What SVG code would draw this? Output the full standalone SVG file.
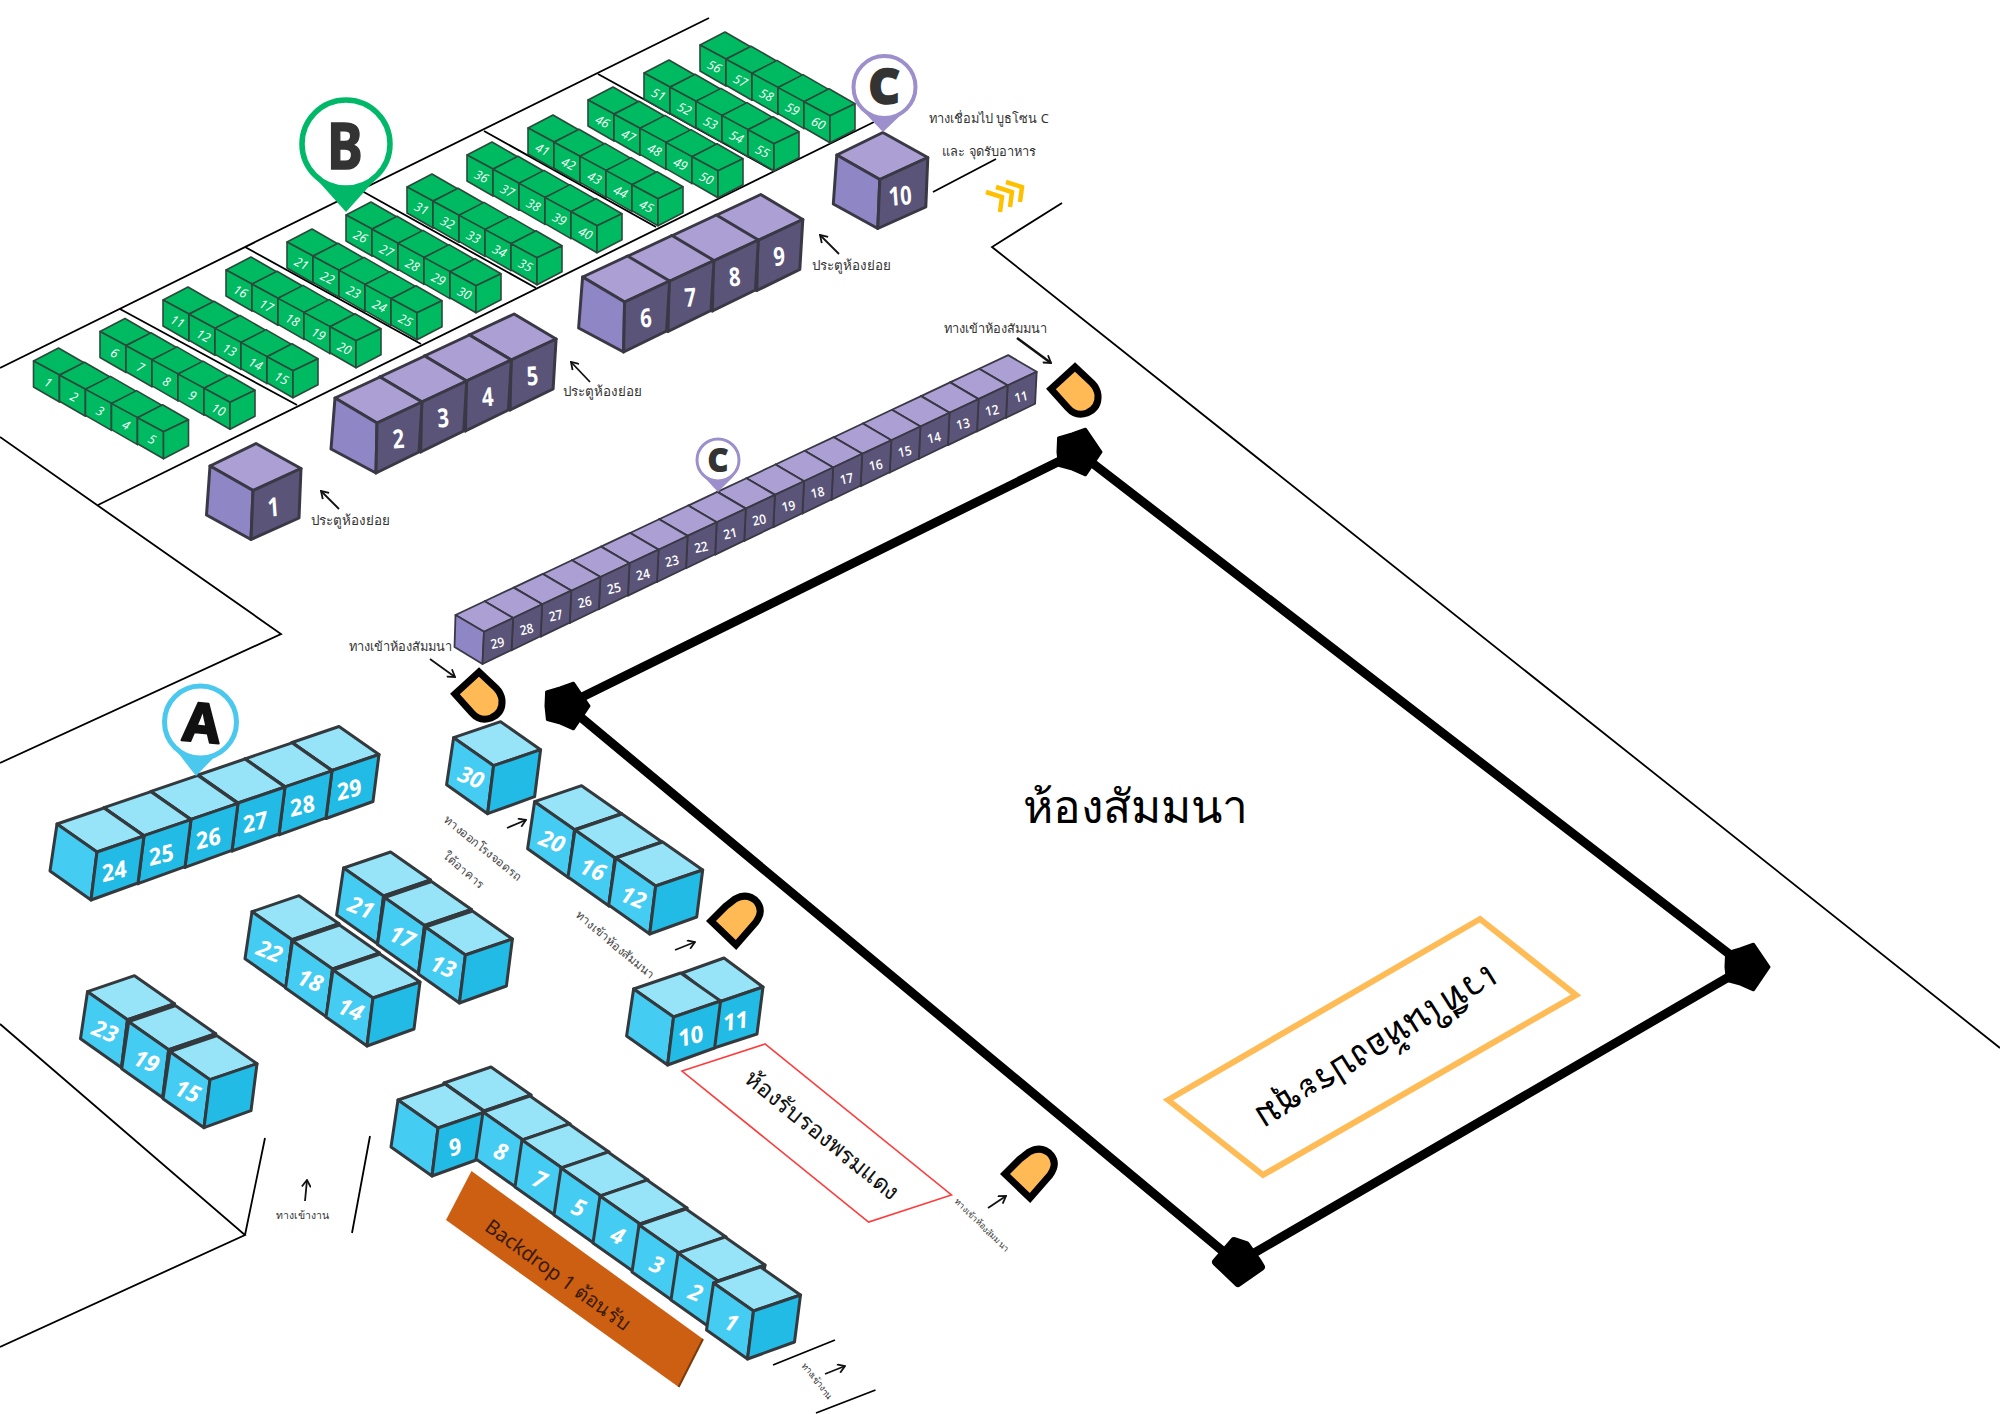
<svg xmlns="http://www.w3.org/2000/svg" width="2000" height="1414" viewBox="0 0 2000 1414">
<style>
text{font-family:"Noto Sans","Liberation Sans","DejaVu Sans",sans-serif;text-anchor:middle}
.th{fill:#333;font-size:13.4px}
.tn{fill:#333;font-size:12.8px}
.tr{fill:#444;font-size:11.8px}
.sm{fill:#333;font-size:10.5px}
.wall{fill:none;stroke:#000;stroke-width:1.8}
.gt{fill:#00BA62;stroke:#2a4a3a;stroke-width:1.6;stroke-linejoin:round}
.gn{fill:#fff;font:italic 12.5px "Open Sans","Liberation Sans",sans-serif;text-anchor:middle;transform:translate(12.5px,25.5px) rotate(26deg)}
.pt{fill:#AB9FD3}.pl{fill:#8F86C5}.pr{fill:#5A5478}
.ps{stroke:#3a3845;stroke-width:3;stroke-linejoin:round}
.pq{stroke:#3a3845;stroke-width:1.8;stroke-linejoin:round}
.pn{fill:#fff;font:bold 26px "Open Sans","Liberation Sans",sans-serif;text-anchor:middle;transform:translate(64px,50px) rotate(-4deg) scale(.78,1)}
.pm{fill:#fff;font:600 13px "Open Sans","Liberation Sans",sans-serif;text-anchor:middle;transform:translate(43px,32.5px) rotate(-12deg) scale(.92,1)}
.bt{fill:#97E4F9}.bl{fill:#45CCF3}.br{fill:#22BBE5}
.bs{stroke:#33393d;stroke-width:3;stroke-linejoin:round}
.bL{fill:#fff;font:italic bold 23px "Open Sans","Liberation Sans",sans-serif;text-anchor:middle;transform:translate(14.5px,47px) rotate(22deg)}
.bR{fill:#fff;font:italic bold 23px "Open Sans","Liberation Sans",sans-serif;text-anchor:middle;transform:translate(59px,55px) rotate(-14deg)}
.bR2{fill:#fff;font:italic bold 23px "Open Sans","Liberation Sans",sans-serif;text-anchor:middle;transform:translate(55px,56px) rotate(-10deg)}
.door{fill:#FFB955;stroke:#000;stroke-width:7;stroke-linejoin:miter}
.arr{fill:none;stroke:#111;stroke-width:1.8;marker-end:url(#ah)}
.chev{fill:none;stroke:#FFC000;stroke-width:4.5}
</style>
<defs>
<marker id="ah" markerUnits="userSpaceOnUse" viewBox="0 0 10 10" refX="9" refY="5" markerWidth="10" markerHeight="10" orient="auto"><path d="M2,0.5 L9,5 L2,9.5" fill="none" stroke="#111" stroke-width="1.8"/></marker>
<g id="gc" class="gt"><path d="M0,0 L26,14 L51,2 L25,-13 Z"/><path d="M0,0 L26,14 L26,41 L0,26 Z"/><path d="M26,14 L51,2 L51,28 L26,41 Z"/></g>
<g id="ps"><path class="pt pq" d="M0,0 L28.5,16.7 L57.6,3 L29.1,-13.7 Z"/><path class="pl pq" d="M0,0 L28.5,16.7 L27,49 L-1,32 Z"/><path class="pr pq" d="M28.5,16.7 L57.6,3 L56,35 L27,49 Z"/></g>
<g id="pb"><path class="pt ps" d="M0,0 L42,25 L87,4 L45,-21 Z"/><path class="pl ps" d="M0,0 L42,25 L41,75 L-4,51 Z"/><path class="pr ps" d="M42,25 L87,4 L84,54 L41,75 Z"/></g>
<g id="pc"><path class="pt ps" d="M0,0 L43,24.5 L91,2.5 L46,-22.5 Z"/><path class="pl ps" d="M0,0 L43,24.5 L41,73.5 L-3.5,49 Z"/><path class="pr ps" d="M43,24.5 L91,2.5 L89,52 L41,73.5 Z"/></g>
<g id="bc"><path class="bt bs" d="M0,0 L40,28 L87,12 L47,-16 Z"/><path class="bl bs" d="M0,0 L40,28 L34,76 L-7,47 Z"/><path class="br bs" d="M40,28 L87,12 L81,59 L34,76 Z"/></g>
<g id="bn"><path class="bt bs" d="M0,0 L37,29 L81,14 L42,-15 Z"/><path class="br bs" d="M37,29 L81,14 L75,61 L32,75 Z"/></g>
<path id="blob" d="M23,0 L15.4,11.2 L7.4,22.8 L-5.6,17.1 L-18.6,13.5 L-20,0 L-19.4,-14.1 L-5.9,-18.1 L7.4,-22.8 L15.4,-11.2 Z" fill="#000" stroke="#000" stroke-width="3" stroke-linejoin="round"/>
<path id="doorA" class="door" d="M1075,367 L1051,389 L1068,408 Q1076,417 1087,413 Q1099,408 1098,395 Q1097,388 1092,383 Z"/>
<path id="doorB" class="door" d="M711,921 L736,945 L756,922 Q764,911 757,902 Q748,892 735,899 Q730,903 726,906 Z"/>
</defs>

<g id="walls" class="wall">
<path d="M0,368 L709,18"/>
<path d="M98,505 L874,122"/>
<path d="M120,309 L297,405 M245,247 L421,344 M362,191 L536,288 M484,131 L656,227 M598,74 L772,170"/>
<path d="M0,437 L281,634 L0,763"/>
<path d="M0,1024 L245,1235 L0,1347 M245,1235 L265,1138 M370,1136 L352,1233"/>
<path d="M933,192 L996,159 M1062,203 L992,247 L2000,1048"/>
<path d="M773,1365 L835,1340 M816,1413 L875.5,1390"/>
</g>

<g id="seminar-room">
<path d="M1078,452 L566,705 L1237,1263 L1746,967 Z" fill="none" stroke="#000" stroke-width="9"/>
<use href="#blob" x="1078" y="452"/><use href="#blob" x="566" y="706"/><use href="#blob" x="1746" y="967"/>
<path d="M1234,1241 L1246,1245 L1258,1262 L1261,1267 L1238,1283 L1216,1262 Z" fill="#000" stroke="#000" stroke-width="8" stroke-linejoin="round"/>
<text x="1135" y="823" font-size="46" fill="#000">ห้องสัมมนา</text>
<path d="M1168,1100 L1480,919 L1576,995 L1263,1175 Z" fill="none" stroke="#FFBB55" stroke-width="6"/>
<text transform="translate(1377,1048) rotate(148)" y="13" font-size="37" fill="#000">เวทีในห้องประชุม</text>
</g>

<g id="red-room">
<path d="M682,1071 L765,1044 L951.5,1195 L868.6,1222 Z" fill="#fff" stroke="#FF3B3B" stroke-width="1.6"/>
<text transform="translate(822,1135) rotate(39)" y="8" font-size="23.5" fill="#111">ห้องรับรองพรมแดง</text>
</g>

<g id="backdrop">
<path d="M471.5,1171 L703,1339 L678.6,1387 L446,1220 Z" fill="#CC5F12"/>
<path d="M703,1339 L678.6,1387" fill="none" stroke="#7a3a0a" stroke-width="2"/>
<text transform="translate(558,1275) rotate(36)" y="7" font-size="20" fill="#3a1a05">Backdrop 1 ต้อนรับ</text>
</g>

<g id="zone-b">
<g id="g1" transform="translate(33.5,361)"><use href="#gc"/><text class="gn">1</text></g>
<g id="g2" transform="translate(59.5,375.2)"><use href="#gc"/><text class="gn">2</text></g>
<g id="g3" transform="translate(85.5,389.4)"><use href="#gc"/><text class="gn">3</text></g>
<g id="g4" transform="translate(111.5,403.6)"><use href="#gc"/><text class="gn">4</text></g>
<g id="g5" transform="translate(137.5,417.8)"><use href="#gc"/><text class="gn">5</text></g>
<g id="g6" transform="translate(100,331.5)"><use href="#gc"/><text class="gn">6</text></g>
<g id="g7" transform="translate(126,345.7)"><use href="#gc"/><text class="gn">7</text></g>
<g id="g8" transform="translate(152,359.9)"><use href="#gc"/><text class="gn">8</text></g>
<g id="g9" transform="translate(178,374.1)"><use href="#gc"/><text class="gn">9</text></g>
<g id="g10" transform="translate(204,388.3)"><use href="#gc"/><text class="gn">10</text></g>
<g id="g11" transform="translate(163,300)"><use href="#gc"/><text class="gn">11</text></g>
<g id="g12" transform="translate(189,314.2)"><use href="#gc"/><text class="gn">12</text></g>
<g id="g13" transform="translate(215,328.4)"><use href="#gc"/><text class="gn">13</text></g>
<g id="g14" transform="translate(241,342.6)"><use href="#gc"/><text class="gn">14</text></g>
<g id="g15" transform="translate(267,356.8)"><use href="#gc"/><text class="gn">15</text></g>
<g id="g16" transform="translate(226,270)"><use href="#gc"/><text class="gn">16</text></g>
<g id="g17" transform="translate(252,284.2)"><use href="#gc"/><text class="gn">17</text></g>
<g id="g18" transform="translate(278,298.4)"><use href="#gc"/><text class="gn">18</text></g>
<g id="g19" transform="translate(304,312.6)"><use href="#gc"/><text class="gn">19</text></g>
<g id="g20" transform="translate(330,326.8)"><use href="#gc"/><text class="gn">20</text></g>
<g id="g21" transform="translate(287,242)"><use href="#gc"/><text class="gn">21</text></g>
<g id="g22" transform="translate(313,256.2)"><use href="#gc"/><text class="gn">22</text></g>
<g id="g23" transform="translate(339,270.4)"><use href="#gc"/><text class="gn">23</text></g>
<g id="g24" transform="translate(365,284.6)"><use href="#gc"/><text class="gn">24</text></g>
<g id="g25" transform="translate(391,298.8)"><use href="#gc"/><text class="gn">25</text></g>
<g id="g26" transform="translate(346,215)"><use href="#gc"/><text class="gn">26</text></g>
<g id="g27" transform="translate(372,229.2)"><use href="#gc"/><text class="gn">27</text></g>
<g id="g28" transform="translate(398,243.4)"><use href="#gc"/><text class="gn">28</text></g>
<g id="g29" transform="translate(424,257.6)"><use href="#gc"/><text class="gn">29</text></g>
<g id="g30" transform="translate(450,271.8)"><use href="#gc"/><text class="gn">30</text></g>
<g id="g31" transform="translate(407,187)"><use href="#gc"/><text class="gn">31</text></g>
<g id="g32" transform="translate(433,201.2)"><use href="#gc"/><text class="gn">32</text></g>
<g id="g33" transform="translate(459,215.4)"><use href="#gc"/><text class="gn">33</text></g>
<g id="g34" transform="translate(485,229.6)"><use href="#gc"/><text class="gn">34</text></g>
<g id="g35" transform="translate(511,243.8)"><use href="#gc"/><text class="gn">35</text></g>
<g id="g36" transform="translate(467,155)"><use href="#gc"/><text class="gn">36</text></g>
<g id="g37" transform="translate(493,169.2)"><use href="#gc"/><text class="gn">37</text></g>
<g id="g38" transform="translate(519,183.4)"><use href="#gc"/><text class="gn">38</text></g>
<g id="g39" transform="translate(545,197.6)"><use href="#gc"/><text class="gn">39</text></g>
<g id="g40" transform="translate(571,211.8)"><use href="#gc"/><text class="gn">40</text></g>
<g id="g41" transform="translate(528,128)"><use href="#gc"/><text class="gn">41</text></g>
<g id="g42" transform="translate(554,142.2)"><use href="#gc"/><text class="gn">42</text></g>
<g id="g43" transform="translate(580,156.4)"><use href="#gc"/><text class="gn">43</text></g>
<g id="g44" transform="translate(606,170.6)"><use href="#gc"/><text class="gn">44</text></g>
<g id="g45" transform="translate(632,184.8)"><use href="#gc"/><text class="gn">45</text></g>
<g id="g46" transform="translate(588,100)"><use href="#gc"/><text class="gn">46</text></g>
<g id="g47" transform="translate(614,114.2)"><use href="#gc"/><text class="gn">47</text></g>
<g id="g48" transform="translate(640,128.4)"><use href="#gc"/><text class="gn">48</text></g>
<g id="g49" transform="translate(666,142.6)"><use href="#gc"/><text class="gn">49</text></g>
<g id="g50" transform="translate(692,156.8)"><use href="#gc"/><text class="gn">50</text></g>
<g id="g51" transform="translate(644,73)"><use href="#gc"/><text class="gn">51</text></g>
<g id="g52" transform="translate(670,87.2)"><use href="#gc"/><text class="gn">52</text></g>
<g id="g53" transform="translate(696,101.4)"><use href="#gc"/><text class="gn">53</text></g>
<g id="g54" transform="translate(722,115.6)"><use href="#gc"/><text class="gn">54</text></g>
<g id="g55" transform="translate(748,129.8)"><use href="#gc"/><text class="gn">55</text></g>
<g id="g56" transform="translate(700,45)"><use href="#gc"/><text class="gn">56</text></g>
<g id="g57" transform="translate(726,59.2)"><use href="#gc"/><text class="gn">57</text></g>
<g id="g58" transform="translate(752,73.4)"><use href="#gc"/><text class="gn">58</text></g>
<g id="g59" transform="translate(778,87.6)"><use href="#gc"/><text class="gn">59</text></g>
<g id="g60" transform="translate(804,101.8)"><use href="#gc"/><text class="gn">60</text></g>
</g>

<g id="zone-c-rooms">
<g id="r1" transform="translate(210,466)"><use href="#pc"/><text class="pn">1</text></g>
<g id="r5" transform="translate(469.1,335)"><use href="#pb"/><text class="pn">5</text></g>
<g id="r4" transform="translate(424.4,356)"><use href="#pb"/><text class="pn">4</text></g>
<g id="r3" transform="translate(379.7,377)"><use href="#pb"/><text class="pn">3</text></g>
<g id="r2" transform="translate(335,398)"><use href="#pb"/><text class="pn">2</text></g>
<g id="r9" transform="translate(715.8,215.5)"><use href="#pb"/><text class="pn">9</text></g>
<g id="r8" transform="translate(671.4,236)"><use href="#pb"/><text class="pn">8</text></g>
<g id="r7" transform="translate(627,256.5)"><use href="#pb"/><text class="pn">7</text></g>
<g id="r6" transform="translate(582.6,277)"><use href="#pb"/><text class="pn">6</text></g>
<g id="r10" transform="translate(836.8,155)"><use href="#pc"/><text class="pn">10</text></g>
</g>

<g id="zone-c-row">
<g id="c11" transform="translate(979.1,368.8)"><use href="#ps"/><text class="pm">11</text></g>
<g id="c12" transform="translate(950,382.4)"><use href="#ps"/><text class="pm">12</text></g>
<g id="c13" transform="translate(921,396.1)"><use href="#ps"/><text class="pm">13</text></g>
<g id="c14" transform="translate(891.9,409.8)"><use href="#ps"/><text class="pm">14</text></g>
<g id="c15" transform="translate(862.8,423.5)"><use href="#ps"/><text class="pm">15</text></g>
<g id="c16" transform="translate(833.7,437.2)"><use href="#ps"/><text class="pm">16</text></g>
<g id="c17" transform="translate(804.6,450.8)"><use href="#ps"/><text class="pm">17</text></g>
<g id="c18" transform="translate(775.5,464.5)"><use href="#ps"/><text class="pm">18</text></g>
<g id="c19" transform="translate(746.4,478.2)"><use href="#ps"/><text class="pm">19</text></g>
<g id="c20" transform="translate(717.3,491.9)"><use href="#ps"/><text class="pm">20</text></g>
<g id="c21" transform="translate(688.2,505.6)"><use href="#ps"/><text class="pm">21</text></g>
<g id="c22" transform="translate(659.1,519.2)"><use href="#ps"/><text class="pm">22</text></g>
<g id="c23" transform="translate(630,533)"><use href="#ps"/><text class="pm">23</text></g>
<g id="c24" transform="translate(601,546.6)"><use href="#ps"/><text class="pm">24</text></g>
<g id="c25" transform="translate(571.9,560.3)"><use href="#ps"/><text class="pm">25</text></g>
<g id="c26" transform="translate(542.8,574)"><use href="#ps"/><text class="pm">26</text></g>
<g id="c27" transform="translate(513.7,587.6)"><use href="#ps"/><text class="pm">27</text></g>
<g id="c28" transform="translate(484.6,601.3)"><use href="#ps"/><text class="pm">28</text></g>
<g id="c29" transform="translate(455.5,615)"><use href="#ps"/><text class="pm">29</text></g>
</g>

<g id="zone-a">
<g id="a29" transform="translate(292,742.5)"><use href="#bc"/><text class="bR">29</text></g>
<g id="a28" transform="translate(245,758.8)"><use href="#bc"/><text class="bR">28</text></g>
<g id="a27" transform="translate(198,775)"><use href="#bc"/><text class="bR">27</text></g>
<g id="a26" transform="translate(151,791.4)"><use href="#bc"/><text class="bR">26</text></g>
<g id="a25" transform="translate(104,807.7)"><use href="#bc"/><text class="bR">25</text></g>
<g id="a24" transform="translate(57,824)"><use href="#bc"/><text class="bR">24</text></g>
<g id="a30" transform="translate(453.6,737.7)"><use href="#bc"/><text class="bL">30</text></g>
<g id="a21" transform="translate(343.6,868)"><use href="#bc"/><text class="bL">21</text></g>
<g id="a17" transform="translate(384.5,897.5)"><use href="#bc"/><text class="bL">17</text></g>
<g id="a13" transform="translate(425.4,927)"><use href="#bc"/><text class="bL">13</text></g>
<g id="a22" transform="translate(252,911.7)"><use href="#bc"/><text class="bL">22</text></g>
<g id="a18" transform="translate(292.5,941)"><use href="#bc"/><text class="bL">18</text></g>
<g id="a14" transform="translate(333,970)"><use href="#bc"/><text class="bL">14</text></g>
<g id="a23" transform="translate(87.5,991.7)"><use href="#bc"/><text class="bL">23</text></g>
<g id="a19" transform="translate(128.7,1021.7)"><use href="#bc"/><text class="bL">19</text></g>
<g id="a15" transform="translate(170,1051.7)"><use href="#bc"/><text class="bL">15</text></g>
<g id="a20" transform="translate(534.6,801.7)"><use href="#bc"/><text class="bL">20</text></g>
<g id="a16" transform="translate(575,830)"><use href="#bc"/><text class="bL">16</text></g>
<g id="a12" transform="translate(615.7,858)"><use href="#bc"/><text class="bL">12</text></g>
<g id="a11" transform="translate(682,973)"><use href="#bn"/><text class="bR2">11</text></g>
<g id="a10" transform="translate(633.6,989)"><use href="#bc"/><text class="bR">10</text></g>
<g id="a0" transform="translate(444,1083)"><use href="#bc"/></g>
<g id="a9" transform="translate(398,1100)"><use href="#bc"/><text class="bR">9</text></g>
<g id="a8" transform="translate(483,1112)"><use href="#bc"/><text class="bL">8</text></g>
<g id="a7" transform="translate(522,1140)"><use href="#bc"/><text class="bL">7</text></g>
<g id="a5" transform="translate(561,1168)"><use href="#bc"/><text class="bL">5</text></g>
<g id="a4" transform="translate(600,1196)"><use href="#bc"/><text class="bL">4</text></g>
<g id="a3" transform="translate(639,1225)"><use href="#bc"/><text class="bL">3</text></g>
<g id="a2" transform="translate(678,1253)"><use href="#bc"/><text class="bL">2</text></g>
<g id="a1" transform="translate(713.5,1283)"><use href="#bc"/><text class="bL">1</text></g>
</g>

<g id="pin-b"><path d="M310,172 L346,212 L382,172 Z" fill="#00B868"/><circle cx="346" cy="144" r="44" fill="#fff" stroke="#00B868" stroke-width="5.5"/><text transform="translate(345,169) scale(.84,1)" font-family="Liberation Sans" font-weight="bold" font-size="64" fill="#333" stroke="#333" stroke-width="1.5">B</text></g>
<g id="pin-c"><path d="M863,111 L883,132 L905,111 Z" fill="#9C8FCB"/><circle cx="884.5" cy="87" r="31" fill="#fff" stroke="#9C8FCB" stroke-width="4"/><text x="884" y="103" font-family="Liberation Sans" font-weight="bold" font-size="46" fill="#333" stroke="#333" stroke-width="3.5">C</text></g>
<g id="pin-c-small"><path d="M704,477 L718,492 L733,477 Z" fill="#9C8FCB"/><circle cx="718" cy="460" r="21" fill="#fff" stroke="#9C8FCB" stroke-width="3"/><text x="718" y="471" font-family="Liberation Sans" font-weight="bold" font-size="30" fill="#333" stroke="#333" stroke-width="2.2">C</text></g>
<g id="pin-a"><path d="M172,745 L196,776 L226,745 Z" fill="#4AC8EE"/><circle cx="200.5" cy="722" r="36" fill="#fff" stroke="#4AC8EE" stroke-width="5"/><text transform="translate(200,742) rotate(5)" font-family="Liberation Sans" font-weight="bold" font-size="54" fill="#111" stroke="#111" stroke-width="2" stroke-linejoin="round">A</text></g>

<g id="doors">
<use href="#doorA"/>
<use href="#doorA" transform="translate(-596,305)"/>
<use href="#doorB"/>
<use href="#doorB" transform="translate(294,253)"/>
</g>

<g id="chevrons" class="chev">
<path d="M986,192 L1002,197 L1000,212"/><path d="M996,187 L1012,192 L1010,207"/><path d="M1006,182 L1022,187 L1020,202"/>
</g>

<g id="arrows">
<path class="arr" d="M339,509 L321,491"/>
<path class="arr" d="M590,382 L571,362"/>
<path class="arr" d="M839,254 L820,235"/>
<path class="arr" style="stroke-width:2.6" d="M1017,338 L1051,363"/>
<path class="arr" d="M430,659 L455,677"/>
<path class="arr" d="M507,828 L526,820"/>
<path class="arr" d="M675,950 L695,942"/>
<path class="arr" d="M988,1208 L1006,1196"/>
<path class="arr" d="M305,1201 L307,1180"/>
<path class="arr" d="M825,1374 L845,1366"/>
</g>

<g id="labels">
<text class="th" x="350" y="525">ประตูห้องย่อย</text>
<text class="th" x="602" y="396">ประตูห้องย่อย</text>
<text class="th" x="851.5" y="270">ประตูห้องย่อย</text>
<text class="tn" x="989" y="123">ทางเชื่อมไป บูธโซน C</text>
<text class="tn" x="989" y="156">และ จุดรับอาหาร</text>
<text class="tn" x="995" y="333">ทางเข้าห้องสัมมนา</text>
<text class="tn" x="400" y="651">ทางเข้าห้องสัมมนา</text>
<text class="tr" transform="translate(482.6,848) rotate(39)" y="4">ทางออกโรงจอดรถ</text>
<text class="tr" transform="translate(463.6,870) rotate(41)" y="4">ใต้อาคาร</text>
<text class="tr" transform="translate(615,945) rotate(40)" y="4">ทางเข้าห้องสัมมนา</text>
<text class="sm" style="font-size:8.6px" transform="translate(981.7,1225) rotate(44)" y="3">ทางเข้าห้องสัมมนา</text>
<text class="sm" x="302" y="1219">ทางเข้างาน</text>
<text class="sm" style="font-size:9px" transform="translate(817,1381) rotate(52)" y="3">ทางเข้างาน</text>
</g>
</svg>
